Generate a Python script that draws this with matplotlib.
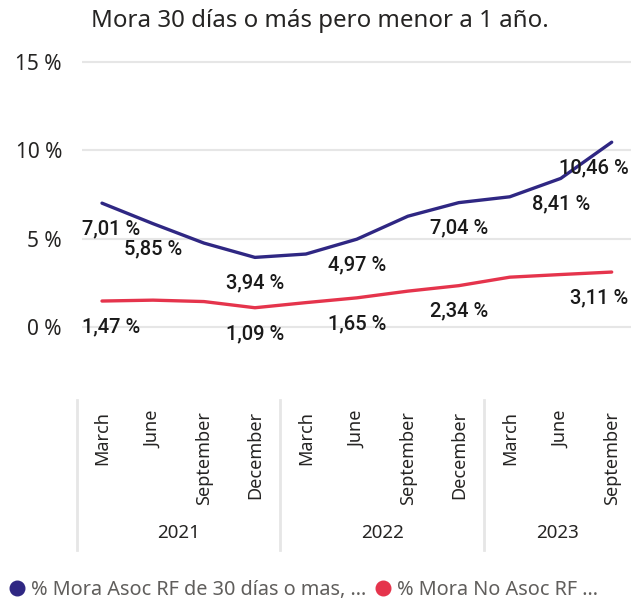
import matplotlib
matplotlib.use("Agg")
import matplotlib.pyplot as plt
from matplotlib.lines import Line2D
import matplotlib.transforms as mtransforms

# ---- data ----
months = ["March", "June", "September", "December",
          "March", "June", "September", "December",
          "March", "June", "September"]
years = ["2021", "2022", "2023"]
year_counts = [4, 4, 3]
asoc = [7.01, 5.85, 4.75, 3.94, 4.13, 4.97, 6.27, 7.04, 7.37, 8.41, 10.46]
no_asoc = [1.47, 1.52, 1.44, 1.09, 1.38, 1.65, 2.03, 2.34, 2.82, 2.97, 3.11]
asoc_labeled = [0, 1, 3, 5, 7, 9, 10]
no_asoc_labeled = [0, 3, 5, 7, 10]
yticks = [0, 5, 10, 15]
title = "Mora 30 días o más pero menor a 1 año."
legend_labels = ["% Mora Asoc RF de 30 días o mas, ...", "% Mora No Asoc RF ..."]

BLUE = "#2F2783"
RED = "#E5344C"
GRID = "#E6E6E6"
TXT = "#252423"

W, H = 633, 599
fig = plt.figure(figsize=(W / 100, H / 100), dpi=100)
fig.patch.set_facecolor("white")

ax_l, ax_r, ax_t, ax_b = 82, 631, 55, 360
ax = fig.add_axes([ax_l / W, 1 - ax_b / H, (ax_r - ax_l) / W, (ax_b - ax_t) / H])
x = list(range(len(months)))
px_per_cat = 50.97
ax.set_xlim(-(102 - ax_l) / px_per_cat, (ax_r - 102) / px_per_cat)
px_per_pct = 17.667
ax.set_ylim(-(ax_b - 327) / px_per_pct, 15 + (62 - ax_t) / px_per_pct)

for s in ax.spines.values():
    s.set_visible(False)
ax.set_yticks(yticks)
ax.set_yticklabels([f"{v} %" for v in yticks], fontsize=15, color=TXT, family="Noto Sans")
ax.yaxis.grid(True, color=GRID, linewidth=1.5)
ax.set_axisbelow(True)
ax.tick_params(axis="y", length=0, pad=14.4)

ax.set_xticks(x)
ax.set_xticklabels(months, rotation=90, fontsize=13, color=TXT, family="Noto Sans")
ax.tick_params(axis="x", length=0, pad=36.5)

ax.plot(x, asoc, color=BLUE, linewidth=2.4, solid_capstyle="round", zorder=3)
ax.plot(x, no_asoc, color=RED, linewidth=2.4, solid_capstyle="round", zorder=3)

def fmt(v):
    return f"{v:.2f}".replace(".", ",") + " %"

xl = ax.get_xlim()
for series, idxs in ((asoc, asoc_labeled), (no_asoc, no_asoc_labeled)):
    for i in idxs:
        if i == 0:
            xx, ha = xl[0], "left"
        elif i == len(x) - 1:
            xx, ha = xl[1] - 0.05, "right"
        else:
            xx, ha = i, "center"
        ax.annotate(fmt(series[i]), (xx, series[i]), xytext=(0, -18.5),
                    textcoords="offset points", ha=ha, va="center",
                    fontsize=14.5, family="Roboto", fontweight="medium",
                    color="#1a1a1a", zorder=4, annotation_clip=False)

# year groups
bt = mtransforms.blended_transform_factory(ax.transData, fig.transFigure)
start = 0
for yr, n in zip(years, year_counts):
    sep = start - 0.5
    ax.plot([sep, sep], [1 - 400 / H, 1 - 550 / H], transform=bt, color=GRID,
            linewidth=2, clip_on=False)
    end = min(start + n - 0.5, xl[1])
    ax.text((sep + end) / 2, 1 - 533 / H, yr, transform=bt, ha="center", va="center",
            fontsize=13.5, color=TXT, family="Noto Sans")
    start += n

fig.text(320 / W, 1 - 21 / H, title, ha="center", va="center", fontsize=17.3,
         color=TXT, family="Noto Sans")

handles = [Line2D([], [], marker="o", linestyle="none", markersize=10.5,
                  markerfacecolor=c, markeredgecolor=c) for c in (BLUE, RED)]
fig.legend(handles, legend_labels, loc="center left", bbox_to_anchor=(9 / W, 1 - 590 / H),
           ncol=2, frameon=False, labelcolor="#605E5C",
           handlelength=0.8, handletextpad=0.3, columnspacing=0.45,
           borderaxespad=0, borderpad=0, prop={"family": "Noto Sans", "size": 14.3})

fig.savefig("out.png", dpi=100, facecolor="white")
